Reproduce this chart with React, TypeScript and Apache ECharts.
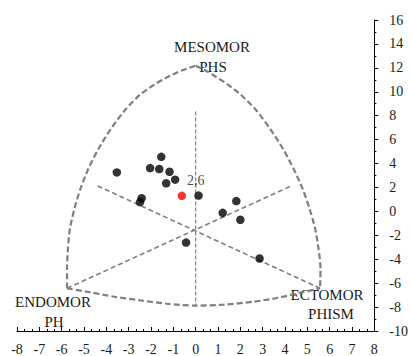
import React, { useEffect, useRef } from "react";
import * as echarts from "echarts";

// Somatotype points (x = ecto - endo, y = 2*meso - (endo+ecto))
const blackX = [-3.53, -2.04, -1.63, -1.54, -1.17, -0.92, -1.32, -2.42, -2.49, 0.13, 1.82, 1.21, 2.0, -0.43, 2.86];
const blackY = [3.26, 3.62, 3.54, 4.56, 3.31, 2.65, 2.35, 1.1, 0.77, 1.32, 0.86, -0.12, -0.7, -2.61, -3.94];
const redX = [-0.62];
const redY = [1.3];
const meanLabelPos = [0, 2.6];
const meanLabelText = "2,6";

// Outline of the somatochart
const leftArc = [
  [-5.76, -6.43], [-5.76, -4.77], [-5.72, -3.11], [-5.63, -1.45], [-5.43, 0.22], [-5.16, 1.88], [-4.81, 3.54],
  [-4.36, 5.2], [-3.81, 6.86], [-3.14, 8.52], [-2.48, 9.77], [-1.85, 10.6], [-1.23, 11.26], [-0.65, 11.76], [0, 12.18],
];
const rightArc = [
  [0, 12.18], [0.46, 11.76], [0.9, 11.26], [1.44, 10.6], [2.01, 9.77], [2.68, 8.52], [3.35, 6.86], [3.92, 5.2],
  [4.39, 3.54], [4.79, 1.88], [5.1, 0.22], [5.35, -1.45], [5.5, -3.11], [5.59, -4.77], [5.57, -6.43],
];
const bottomArc = [
  [-5.76, -6.43], [-4.74, -6.76], [-3.63, -7.14], [-2.52, -7.43], [-1.28, -7.72], [0, -7.88], [1.26, -7.8],
  [2.59, -7.55], [3.7, -7.22], [4.68, -6.8], [5.57, -6.43],
];
const verticalLine = [[0, 8.36], [0, -7.9]];
const lineA = [[-4.39, 2.13], [5.57, -6.43]];
const lineB = [[-5.76, -6.43], [4.28, 2.13]];

const FONT = "Liberation Serif";
const GRAY = "#7f7f7f";
const TEXT = "#1a1a1a";

export default function App() {
  const ref = useRef<HTMLDivElement>(null);
  useEffect(() => {
    if (!ref.current) return;
    const chart = echarts.init(ref.current, undefined, { renderer: "svg" });
    const outline = (data: number[][], width: number, type: any = [6, 3], smooth: any = 0.25) => ({
      type: "line",
      data,
      smooth,
      showSymbol: false,
      symbol: "none",
      silent: true,
      lineStyle: { color: GRAY, width, type },
      z: 1,
    });
    const txt = (text: string, x: number, y: number, size = 15) => ({
      type: "text",
      x,
      y,
      style: { text, align: "center", verticalAlign: "middle", fontSize: size, fontFamily: FONT, fill: TEXT },
    });
    chart.setOption({
      animation: false,
      textStyle: { fontFamily: FONT },
      grid: { left: 17, right: 34, top: 20, bottom: 23 },
      xAxis: {
        type: "value",
        min: -8,
        max: 8,
        interval: 1,
        position: "bottom",
        axisLine: { onZero: false, lineStyle: { color: "#000", width: 1 } },
        axisTick: { inside: true, length: 4, lineStyle: { color: "#000" } },
        minorTick: { show: true, splitNumber: 3, length: 2, lineStyle: { color: "#000" } },
        splitLine: { show: false },
        axisLabel: { color: TEXT, fontFamily: FONT, fontSize: 14, margin: 11 },
      },
      yAxis: {
        type: "value",
        min: -10,
        max: 16,
        interval: 2,
        position: "right",
        axisLine: { show: true, onZero: false, lineStyle: { color: "#000", width: 1 } },
        axisTick: { show: true, inside: false, length: 4, lineStyle: { color: "#000" } },
        minorTick: { show: true, splitNumber: 2, length: 2, lineStyle: { color: "#000" } },
        splitLine: { show: false },
        axisLabel: { color: TEXT, fontFamily: FONT, fontSize: 14, margin: 15 },
      },
      series: [
        outline(leftArc, 2.2),
        outline(rightArc, 2.2),
        outline(bottomArc, 2.2),
        outline(verticalLine, 1.2, [4, 2], false),
        outline(lineA, 1.6, [5, 3], false),
        outline(lineB, 1.6, [5, 3], false),
        {
          type: "scatter",
          data: blackX.map((x, i) => [x, blackY[i]]),
          symbolSize: 8.5,
          itemStyle: { color: "#000" },
          z: 3,
        },
        {
          type: "scatter",
          data: redX.map((x, i) => [x, redY[i]]),
          symbolSize: 8.5,
          itemStyle: { color: "#ff0000" },
          z: 3,
        },
        {
          type: "scatter",
          data: [meanLabelPos],
          symbolSize: 0,
          silent: true,
          label: {
            show: true,
            position: "inside",
            formatter: meanLabelText,
            color: TEXT,
            fontFamily: FONT,
            fontSize: 14,
          },
          z: 4,
        },
      ],
      graphic: [
        txt("MESOMOR", 212, 47),
        txt("PHS", 213, 67),
        txt("ENDOMOR", 53, 302),
        txt("PH", 54, 322),
        txt("ECTOMOR", 327, 295),
        txt("PHISM", 331, 314),
      ],
    });
    return () => chart.dispose();
  }, []);
  return <div ref={ref} style={{ position: "fixed", left: 0, top: 0, width: 411, height: 356, background: "#fff" }} />;
}
